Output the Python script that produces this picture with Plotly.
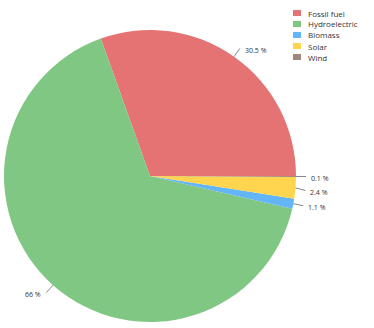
import math
import plotly.graph_objects as go

labels = ["Fossil fuel", "Hydroelectric", "Biomass", "Solar", "Wind"]
values = [30.5, 66, 1.1, 2.4, 0.1]
colors = ["#E57373", "#81C784", "#64B5F6", "#FFD54F", "#A1887F"]

W, H = 374, 328
CX, CY, R = 150, 176, 146
START = 90  # first slice begins at 3 o'clock and runs counterclockwise

total = sum(values)
rotation = START - values[0] / total * 360

fig = go.Figure(go.Pie(
    labels=labels, values=values, sort=False, direction="counterclockwise",
    rotation=rotation, marker=dict(colors=colors, line=dict(width=0)),
    textinfo="none", hoverinfo="label+percent", showlegend=False,
    domain=dict(x=[(CX - R) / W, (CX + R) / W], y=[1 - (CY + R) / H, 1 - (CY - R) / H]),
))

def px2paper(x, y):
    return x / W, 1 - y / H

cum = 0.0
items = []
for lab, v in zip(labels, values):
    a0 = START - cum / total * 360
    cum += v
    a1 = START - cum / total * 360
    mid = math.radians((a0 + a1) / 2)
    sx, sy = math.sin(mid), -math.cos(mid)
    p = (CX + R * sx, CY + R * sy)
    q = (CX + (R + 10) * sx, CY + (R + 10) * sy)
    items.append(dict(v=v, p=p, q=list(q), right=sx >= 0))

right = sorted([it for it in items if it["right"]], key=lambda it: it["q"][1])
for i in range(1, len(right)):
    if right[i]["q"][1] - right[i - 1]["q"][1] < 14:
        right[i]["q"][1] = right[i - 1]["q"][1] + 14

shapes, annos = [], []
for it in items:
    x0, y0 = px2paper(*it["p"])
    x1, y1 = px2paper(*it["q"])
    shapes.append(dict(type="line", xref="paper", yref="paper", x0=x0, y0=y0, x1=x1, y1=y1,
                       line=dict(color="#666666", width=0.8)))
    tx = it["q"][0] + (3 if it["right"] else -3)
    ty = it["q"][1] + 2
    ax, ay = px2paper(tx, ty)
    annos.append(dict(xref="paper", yref="paper", x=ax, y=ay, showarrow=False,
                      text=f"{it['v']:g} %", xanchor="left" if it["right"] else "right",
                      yanchor="middle", font=dict(size=7, color="#333333")))

LX, LY, LSTEP = 293, 13, 11
for i, (lab, col) in enumerate(zip(labels, colors)):
    yc = LY + i * LSTEP
    bx0, by0 = px2paper(LX, yc - 3)
    bx1, by1 = px2paper(LX + 8, yc + 3)
    shapes.append(dict(type="rect", xref="paper", yref="paper", x0=bx0, y0=by0, x1=bx1, y1=by1,
                       fillcolor=col, line=dict(width=0)))
    tx, ty = px2paper(LX + 13, yc)
    annos.append(dict(xref="paper", yref="paper", x=tx, y=ty, showarrow=False, text=lab,
                      xanchor="left", yanchor="middle", font=dict(size=8, color="#333333")))

fig.update_layout(
    width=W, height=H, margin=dict(l=0, r=0, t=0, b=0),
    paper_bgcolor="white", plot_bgcolor="white",
    font=dict(family="Open Sans, sans-serif", color="#333333"),
    shapes=shapes, annotations=annos, showlegend=False,
)

fig.write_html("out.html", config={"displayModeBar": False},
               post_script="document.body.style.margin='0';document.body.style.overflow='hidden';")
